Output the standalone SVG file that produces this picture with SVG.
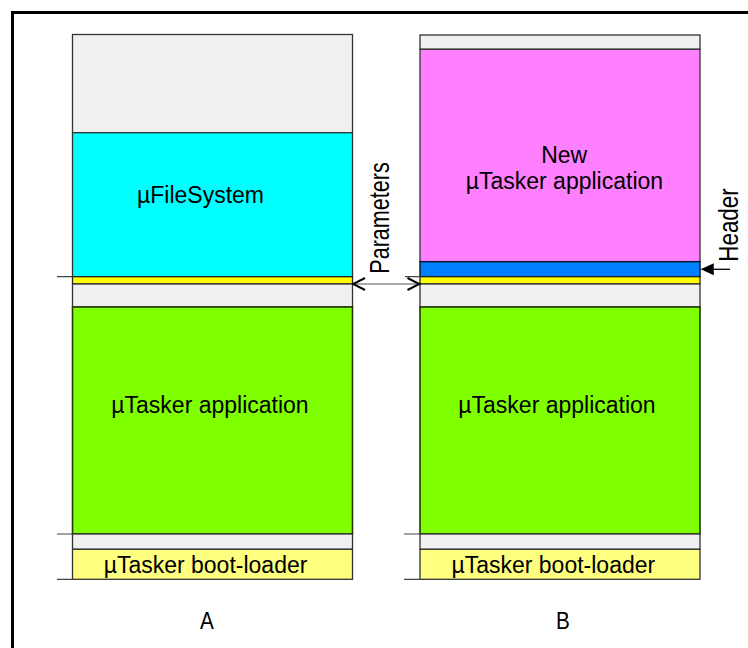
<svg xmlns="http://www.w3.org/2000/svg" width="748" height="648" viewBox="0 0 748 648">
<style>
.lbl{font-family:"Liberation Sans",Arial,sans-serif;font-size:23px;fill:#000;text-anchor:middle}
.ab{font-family:"Liberation Sans",Arial,sans-serif;font-size:23px;fill:#000;text-anchor:middle}
.rot{font-family:"Liberation Sans",Arial,sans-serif;font-size:28px;fill:#000;text-anchor:middle}
.blk{stroke:#333;stroke-width:1.3}
.tick{stroke:#444;stroke-width:1.2;fill:none}
</style>
<defs>
<marker id="open" viewBox="0 0 14 14" refX="13" refY="7" markerWidth="14" markerHeight="14" markerUnits="userSpaceOnUse" orient="auto-start-reverse">
<path d="M1,1 L13,7 L1,13" fill="none" stroke="#000" stroke-width="2"/>
</marker>
<marker id="fill" viewBox="0 0 14 14" refX="13" refY="7" markerWidth="14" markerHeight="13" markerUnits="userSpaceOnUse" orient="auto">
<path d="M0,0.5 L14,7 L0,13.5 Z" fill="#000"/>
</marker>
</defs>
<rect width="748" height="648" fill="#fff"/>
<path d="M12.5,648 V12.5 H748" fill="none" stroke="#000" stroke-width="3"/>

<g id="colA">
<rect class="blk" x="72.5" y="34.5" width="280" height="98.2" fill="#f0f0f0"/>
<g id="fsA"><rect class="blk" x="72.5" y="132.7" width="280" height="144" fill="#00ffff"/>
<text class="lbl" x="200.5" y="203.3">µFileSystem</text></g>
<rect x="72.5" y="276.7" width="280" height="7.3" fill="#ffff00" stroke="#222" stroke-width="1.3"/>
<rect class="blk" x="72.5" y="284" width="280" height="23" fill="#f0f0f0"/>
<g id="appA"><rect x="72.5" y="307" width="280" height="227" fill="#80ff00" stroke="#1f3a00" stroke-width="1.6"/>
<text class="lbl" x="210" y="413">µTasker application</text></g>
<rect class="blk" x="72.5" y="534" width="280" height="15.3" fill="#f0f0f0"/>
<g id="bootA"><rect class="blk" x="72.5" y="549.3" width="280" height="30" fill="#ffff80"/>
<text class="lbl" x="205.5" y="572.7">µTasker boot-loader</text></g>
</g>

<g id="colB">
<rect class="blk" x="420" y="35" width="280" height="14.3" fill="#f0f0f0"/>
<g id="newB"><rect class="blk" x="420" y="49.3" width="280" height="212.4" fill="#ff80ff"/>
<text class="lbl" x="564.2" y="163.3">New</text>
<text class="lbl" x="564.4" y="189.3">µTasker application</text></g>
<rect x="420" y="261.7" width="280" height="15" fill="#0080ff" stroke="#0a1a33" stroke-width="1.5"/>
<rect x="420" y="276.7" width="280" height="7.3" fill="#ffff00" stroke="#222" stroke-width="1.3"/>
<rect class="blk" x="420" y="284" width="280" height="23" fill="#f0f0f0"/>
<g id="appB"><rect x="420" y="307" width="280" height="227" fill="#80ff00" stroke="#1f3a00" stroke-width="1.6"/>
<text class="lbl" x="557" y="413">µTasker application</text></g>
<rect class="blk" x="420" y="534" width="280" height="15.3" fill="#f0f0f0"/>
<g id="bootB"><rect class="blk" x="420" y="549.3" width="280" height="30" fill="#ffff80"/>
<text class="lbl" x="553.3" y="572.7">µTasker boot-loader</text></g>
</g>

<g id="connectors">
<path class="tick" d="M57,276.7 H72.5 M57,534 H72.5 M57,579.3 H72.5 M405,276.7 H420 M404,534 H420 M404,579.3 H420"/>
<line x1="353" y1="284" x2="419.5" y2="284" stroke="#555" stroke-width="1.2" marker-start="url(#open)" marker-end="url(#open)"/>
<line x1="730" y1="269.3" x2="701.7" y2="269.3" stroke="#000" stroke-width="1.3" marker-end="url(#fill)"/>
</g>

<text class="rot" transform="translate(389,218) rotate(-90) scale(0.77,1)">Parameters</text>
<text class="rot" transform="translate(738,225) rotate(-90) scale(0.8,1)">Header</text>
<text class="ab" transform="translate(207,629) scale(0.9,1.05)">A</text>
<text class="ab" transform="translate(563,629) scale(0.9,1.05)">B</text>
</svg>
